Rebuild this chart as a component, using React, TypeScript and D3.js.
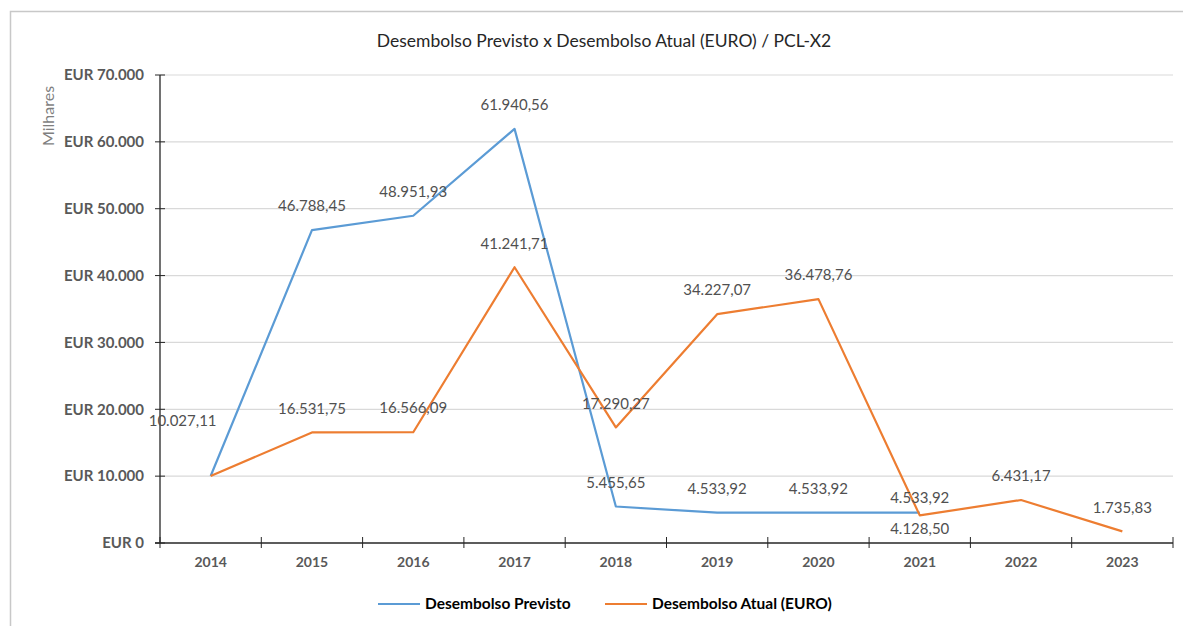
import React, { useEffect, useRef } from 'react';
import * as d3 from 'd3';

// Desembolso previsto x atual, PCL-X2 (valores em EUR)
const years = ['2014', '2015', '2016', '2017', '2018', '2019', '2020', '2021', '2022', '2023'];
const previsto = [10027.11, 46788.45, 48951.93, 61940.56, 5455.65, 4533.92, 4533.92, 4533.92, null, null];
const atual = [10027.11, 16531.75, 16566.09, 41241.71, 17290.27, 34227.07, 36478.76, 4128.5, 6431.17, 1735.83];
const yTicks = [0, 10000, 20000, 30000, 40000, 50000, 60000, 70000];

const W = 1183;
const H = 626;
const LEFT = 160;
const RIGHT = 1173;
const TOP = 75;
const BOTTOM = 543;
const FONT = 'Lato, "Open Sans", sans-serif';
const BLUE = '#5B9BD5';
const ORANGE = '#ED7D31';

const fmt = (v: number) => {
  const [i, d] = v.toFixed(2).split('.');
  return `${i.replace(/\B(?=(\d{3})+(?!\d))/g, '.')},${d}`;
};
const fmtAxis = (v: number) => `EUR ${v === 0 ? '0' : d3.format(',')(v).replace(/,/g, '.')}`;

// label nudges where the default (centered, above the point) doesn't fit
const labelShift: Record<string, [number, number]> = {
  'atual-0': [-28, -55],
  'previsto-7': [0, -15],
  'atual-7': [0, 13],
};

export default function App() {
  const ref = useRef<SVGSVGElement>(null);

  useEffect(() => {
    const svg = d3.select(ref.current);
    svg.selectAll('*').remove();

    svg.append('rect').attr('width', W).attr('height', H).attr('fill', 'white');
    // chart frame (cropped on right/bottom)
    svg.append('path')
      .attr('d', `M10.5,${H} V11.5 H${W}`)
      .attr('fill', 'none')
      .attr('stroke', '#c8c8c8')
      .attr('stroke-width', 1.5);

    const x = d3.scaleBand().domain(years).range([LEFT, RIGHT]);
    const y = d3.scaleLinear().domain([0, 70000]).range([BOTTOM, TOP]);

    // gridlines
    svg.append('g')
      .selectAll('line')
      .data(yTicks.filter((t) => t > 0))
      .enter()
      .append('line')
      .attr('x1', LEFT)
      .attr('x2', RIGHT)
      .attr('y1', (d) => y(d))
      .attr('y2', (d) => y(d))
      .attr('stroke', '#d9d9d9')
      .attr('stroke-width', 1.2);

    // y axis
    const yAxis = svg.append('g').attr('transform', `translate(${LEFT},0)`)
      .call(d3.axisLeft(y).tickValues(yTicks).tickSize(0).tickPadding(16).tickFormat((v) => fmtAxis(+v)));
    yAxis.select('.domain').remove();
    yAxis.selectAll('text')
      .attr('font-family', FONT)
      .attr('font-size', 15)
      .attr('font-weight', 'bold')
      .attr('fill', '#595959');
    svg.append('g')
      .selectAll('line')
      .data(yTicks)
      .enter()
      .append('line')
      .attr('x1', LEFT - 5)
      .attr('x2', LEFT + 5)
      .attr('y1', (d) => y(d))
      .attr('y2', (d) => y(d))
      .attr('stroke', '#262626');
    svg.append('line')
      .attr('x1', LEFT).attr('x2', LEFT)
      .attr('y1', TOP).attr('y2', BOTTOM)
      .attr('stroke', '#262626').attr('stroke-width', 1.3);

    // x axis
    const xAxis = svg.append('g').attr('transform', `translate(0,${BOTTOM})`)
      .call(d3.axisBottom(x).tickSize(0).tickPadding(14));
    xAxis.select('.domain').remove();
    xAxis.selectAll('text')
      .attr('font-family', FONT)
      .attr('font-size', 14)
      .attr('font-weight', 'bold')
      .attr('fill', '#595959');
    const bounds = years.map((yr) => x(yr) as number).concat([RIGHT]);
    svg.append('g')
      .selectAll('line')
      .data(bounds)
      .enter()
      .append('line')
      .attr('x1', (d) => d).attr('x2', (d) => d)
      .attr('y1', BOTTOM - 6).attr('y2', BOTTOM + 5)
      .attr('stroke', '#262626');
    svg.append('line')
      .attr('x1', LEFT - 5).attr('x2', RIGHT)
      .attr('y1', BOTTOM).attr('y2', BOTTOM)
      .attr('stroke', '#262626').attr('stroke-width', 1.3);

    const cx = (i: number) => (x(years[i]) as number) + x.bandwidth() / 2;

    const series = [
      { key: 'previsto', values: previsto, color: BLUE },
      { key: 'atual', values: atual, color: ORANGE },
    ];

    series.forEach((s) => {
      const pts = s.values
        .map((v, i) => ({ v, i }))
        .filter((p) => p.v != null) as { v: number; i: number }[];
      const line = d3.line<{ v: number; i: number }>()
        .x((p) => cx(p.i))
        .y((p) => y(p.v));
      svg.append('path')
        .datum(pts)
        .attr('fill', 'none')
        .attr('stroke', s.color)
        .attr('stroke-width', 2.2)
        .attr('stroke-linejoin', 'round')
        .attr('d', line);
    });

    // data labels
    series.forEach((s) => {
      s.values.forEach((v, i) => {
        if (v == null) return;
        if (s.key === 'previsto' && i === 0) return; // same value/spot as atual
        const [dx, dy] = labelShift[`${s.key}-${i}`] ?? [0, -24];
        svg.append('text')
          .attr('x', cx(i) + dx)
          .attr('y', y(v) + dy)
          .attr('dy', '0.35em')
          .attr('text-anchor', 'middle')
          .attr('font-family', FONT)
          .attr('font-size', 15)
          .attr('fill', '#505050')
          .text(fmt(v));
      });
    });

    // title
    svg.append('text')
      .attr('x', 604)
      .attr('y', 41)
      .attr('dy', '0.35em')
      .attr('text-anchor', 'middle')
      .attr('font-family', FONT)
      .attr('font-size', 17.5)
      .attr('fill', '#262626')
      .text('Desembolso Previsto x Desembolso Atual (EURO) / PCL-X2');

    // y axis unit
    svg.append('text')
      .attr('transform', `translate(48,116) rotate(-90)`)
      .attr('dy', '0.35em')
      .attr('text-anchor', 'middle')
      .attr('font-family', FONT)
      .attr('font-size', 16)
      .attr('fill', '#7f7f7f')
      .text('Milhares');

    // legend
    const legend = [
      { label: 'Desembolso Previsto', color: BLUE, x0: 378 },
      { label: 'Desembolso Atual (EURO)', color: ORANGE, x0: 605 },
    ];
    legend.forEach((l) => {
      svg.append('line')
        .attr('x1', l.x0).attr('x2', l.x0 + 42)
        .attr('y1', 604).attr('y2', 604)
        .attr('stroke', l.color).attr('stroke-width', 2.2);
      svg.append('text')
        .attr('x', l.x0 + 47)
        .attr('y', 604)
        .attr('dy', '0.35em')
        .attr('font-family', FONT)
        .attr('font-size', 15.5)
        .attr('font-weight', 'bold')
        .attr('fill', '#000')
        .text(l.label);
    });
  }, []);

  return (
    <svg
      ref={ref}
      width={W}
      height={H}
      style={{ position: 'absolute', left: 0, top: 0, display: 'block' }}
    />
  );
}
